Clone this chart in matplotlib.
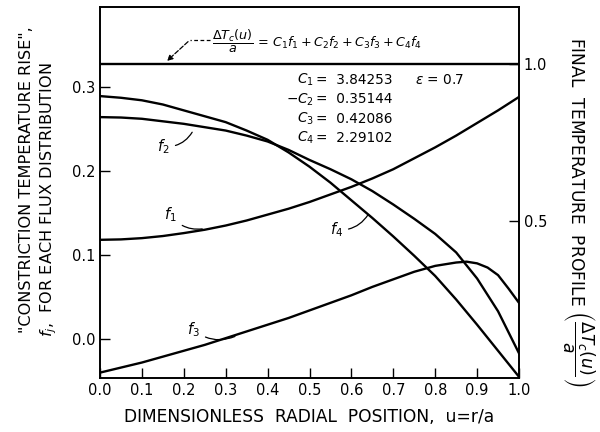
import matplotlib
matplotlib.use("Agg")
import matplotlib.pyplot as plt

# radial position u = r/a
u = [0.0, 0.05, 0.1, 0.15, 0.2, 0.25, 0.3, 0.35, 0.4, 0.45, 0.5,
     0.55, 0.6, 0.65, 0.7, 0.75, 0.8, 0.85, 0.9, 0.95, 1.0]

# constriction temperature rise for each flux distribution
f1 = [0.118, 0.1185, 0.120, 0.1225, 0.126, 0.130, 0.135, 0.141, 0.148, 0.155, 0.163,
      0.172, 0.181, 0.191, 0.202, 0.215, 0.228, 0.242, 0.257, 0.272, 0.288]
f2 = [0.264, 0.2635, 0.262, 0.259, 0.256, 0.252, 0.248, 0.242, 0.235, 0.225, 0.213,
      0.202, 0.190, 0.176, 0.160, 0.143, 0.125, 0.103, 0.072, 0.033, -0.017]
f4 = [0.289, 0.287, 0.284, 0.279, 0.272, 0.265, 0.258, 0.248, 0.237, 0.222, 0.205,
      0.186, 0.165, 0.144, 0.122, 0.099, 0.075, 0.047, 0.017, -0.014, -0.045]

u3 = [0.0, 0.05, 0.1, 0.15, 0.2, 0.25, 0.3, 0.35, 0.4, 0.45, 0.5, 0.55, 0.6,
      0.65, 0.7, 0.75, 0.8, 0.85, 0.875, 0.9, 0.925, 0.95, 0.975, 1.0]
f3 = [-0.040, -0.034, -0.028, -0.021, -0.014, -0.007, 0.001, 0.009, 0.017, 0.025, 0.034,
      0.043, 0.052, 0.062, 0.071, 0.080, 0.087, 0.091, 0.092, 0.090, 0.085, 0.076, 0.060, 0.043]

# final temperature profile (right axis)
final_u = [0.0, 1.0]
final_T = [1.0, 1.0]

consts = [("$C_1$", "3.84253"), ("$-C_2$", "0.35144"), ("$C_3$", "0.42086"), ("$C_4$", "2.29102")]
eps = "0.7"

xticks = [0.0, 0.1, 0.2, 0.3, 0.4, 0.5, 0.6, 0.7, 0.8, 0.9, 1.0]
xticklabels = ["0.0", "0.1", "0.2", "0.3", "0.4", "0.5", "0.6", "0.7", "0.8", "0.9", "1.0"]
yticks = [0.0, 0.1, 0.2, 0.3]
yticklabels = ["0.0", "0.1", "0.2", "0.3"]
rticks = [0.5, 1.0]
rticklabels = ["0.5", "1.0"]

plt.rcParams['font.family'] = ['DejaVu Sans']
plt.rcParams['mathtext.fontset'] = 'dejavusans'

fig = plt.figure(figsize=(6, 4.32), dpi=100)
ax = fig.add_axes([100/600, 54/432, 419/600, 371/432])
ax2 = ax.twinx()

lw = 1.7
for x, f in ((u, f1), (u, f2), (u3, f3), (u, f4)):
    ax.plot(x, f, color='black', lw=lw)
ax2.plot(final_u, final_T, color='black', lw=lw)

ax.set_xlim(0, 1)
ax.set_ylim(-0.0464, 0.395)
ax2.set_ylim(0, 1.1815)

ax.set_xticks(xticks)
ax.set_xticklabels(xticklabels, fontsize=10.5)
ax.set_yticks(yticks)
ax.set_yticklabels(yticklabels, fontsize=10.5)
ax2.set_yticks(rticks)
ax2.set_yticklabels(rticklabels, fontsize=10.5)
ax.tick_params(direction='in', length=7, width=1)
ax2.tick_params(direction='in', length=7, width=1)
for a in (ax, ax2):
    for s in a.spines.values():
        s.set_linewidth(1.2)

ax.set_xlabel("DIMENSIONLESS  RADIAL  POSITION,  u=r/a", fontsize=12.3, labelpad=7)

fig.text(27/600, 1 - 180/432, '"CONSTRICTION TEMPERATURE RISE",', rotation=90,
         ha='center', va='center', fontsize=11.6)
fig.text(49/600, 1 - 200/432, '$f_j$,  FOR EACH FLUX DISTRIBUTION', rotation=90,
         ha='center', va='center', fontsize=11.6)
fig.text(578/600, 1 - 212/432,
         r'FINAL  TEMPERATURE  PROFILE $\left(\dfrac{\Delta T_c(u)}{a}\right)$',
         rotation=270, ha='center', va='center', fontsize=12.3)

# equation above the line with dashed leader
ax.text(0.267, 0.354, r'$\dfrac{\Delta T_c(u)}{a}$ = $C_1f_1 + C_2f_2 + C_3f_3 + C_4f_4$',
        fontsize=9.2, ha='left', va='center')
ax.plot([0.262, 0.215], [0.356, 0.356], color='black', lw=0.9, ls=(0, (3, 2)))
ax.annotate("", xy=(0.155, 0.3286), xytext=(0.215, 0.356),
            arrowprops=dict(arrowstyle='-|>', lw=0.9, ls='--', color='black',
                            mutation_scale=8))

# constants block
cy = [0.308, 0.285, 0.262, 0.239]
for (lab, val), y in zip(consts, cy):
    ax.text(0.51, y, lab, fontsize=9.8, ha='right', va='center')
    ax.text(0.515, y, "=  " + val, fontsize=9.8, ha='left', va='center')
ax.text(0.752, cy[0], r"$\epsilon$ = " + eps, fontsize=9.8, ha='left', va='center')

# curve labels
labels = [("$f_1$", (0.184, 0.148), (0.244, 0.131)),
          ("$f_2$", (0.167, 0.229), (0.22, 0.246)),
          ("$f_3$", (0.239, 0.011), (0.322, 0.003)),
          ("$f_4$", (0.58, 0.13), (0.64, 0.148))]
for lab, xyt, xy in labels:
    ax.annotate(lab, xy=xy, xytext=xyt, fontsize=10.5, ha='right', va='center',
                arrowprops=dict(arrowstyle='-', lw=0.9, color='black',
                                connectionstyle='arc3,rad=0.3', shrinkA=2, shrinkB=0))

fig.savefig("out.png", dpi=100)
